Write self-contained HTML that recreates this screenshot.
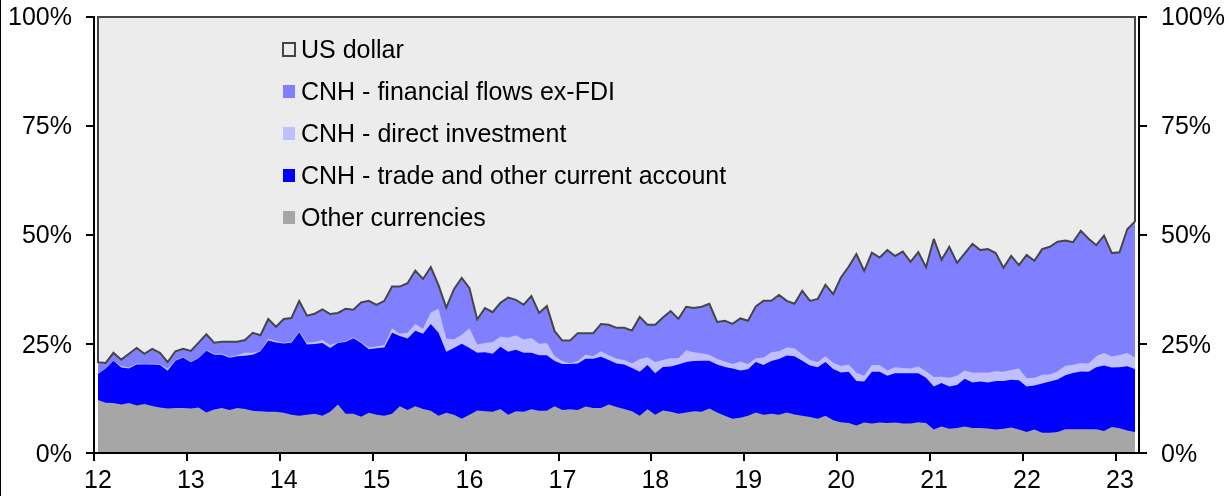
<!DOCTYPE html>
<html><head><meta charset="utf-8"><style>
html,body{margin:0;padding:0;background:#fff;}
body{width:1229px;height:496px;overflow:hidden;}
svg{display:block;will-change:transform;}
.t{font-family:"Liberation Sans",sans-serif;font-size:25px;fill:#000;}
</style></head><body>
<svg width="1229" height="496" viewBox="0 0 1229 496"><rect x="0" y="0" width="1229" height="496" fill="#ffffff"/><rect x="0" y="0" width="1" height="496" fill="#000000"/><rect x="98.0" y="17.0" width="1037.0" height="436.0" fill="#ececec"/><polygon points="98.00,453.0 98.00,362.20 105.74,362.98 113.48,352.81 121.22,359.66 128.96,353.79 136.69,347.92 144.43,353.79 152.17,348.90 159.91,352.81 167.65,362.20 175.39,351.25 183.13,348.90 190.87,350.86 198.60,342.64 206.34,334.23 214.08,342.64 221.82,341.66 229.56,341.66 237.30,341.66 245.04,340.10 252.78,332.86 260.51,335.21 268.25,318.97 275.99,326.80 283.73,318.97 291.47,318.00 299.21,300.98 306.95,315.65 314.69,313.69 322.43,309.39 330.16,314.08 337.90,312.98 345.64,308.68 353.38,309.66 361.12,302.42 368.86,300.86 376.60,304.77 384.34,300.86 392.07,286.58 399.81,286.58 407.55,283.25 415.29,270.54 423.03,278.95 430.77,267.02 438.51,285.21 446.25,307.70 453.99,289.12 461.72,277.97 469.46,288.14 477.20,319.44 484.94,308.09 492.68,312.20 500.42,302.81 508.16,297.53 515.90,299.88 523.63,304.77 531.37,295.97 539.11,312.98 546.85,306.14 554.59,331.17 562.33,340.56 570.07,340.56 577.81,333.13 585.54,333.13 593.28,333.13 601.02,323.94 608.76,324.72 616.50,327.85 624.24,327.85 631.98,330.59 639.72,316.89 647.46,324.72 655.19,324.72 662.93,317.48 670.67,311.03 678.41,318.85 686.15,306.72 693.89,307.90 701.63,306.72 709.37,303.79 717.10,321.98 724.84,320.81 732.58,323.94 740.32,318.46 748.06,320.81 755.80,306.33 763.54,300.86 771.28,300.86 779.01,294.99 786.75,300.86 794.49,303.79 802.23,290.68 809.97,300.86 817.71,299.00 825.45,284.72 833.19,294.11 840.93,277.48 848.66,266.72 856.40,254.01 864.14,271.03 871.88,252.64 879.62,257.53 887.36,250.10 895.10,255.97 902.84,251.66 910.57,261.83 918.31,252.05 926.05,267.31 933.79,238.95 941.53,259.88 949.27,246.77 957.01,262.81 964.75,253.42 972.49,243.84 980.22,250.10 987.96,249.12 995.70,253.03 1003.44,267.70 1011.18,255.97 1018.92,265.16 1026.66,254.99 1034.40,260.86 1042.13,249.12 1049.87,246.77 1057.61,241.74 1065.35,240.52 1073.09,242.11 1080.83,230.76 1088.57,238.81 1096.31,245.16 1104.04,235.64 1111.78,253.09 1119.52,252.24 1127.26,229.29 1135.00,221.36 1135.00,453.0" fill="#8080ff"/><polygon points="98.00,453.0 98.00,373.55 105.74,368.07 113.48,360.24 121.22,366.11 128.96,367.48 136.69,363.57 144.43,363.96 152.17,363.77 159.91,364.16 167.65,368.46 175.39,360.05 183.13,357.31 190.87,361.42 198.60,357.70 206.34,350.27 214.08,353.79 221.82,353.79 229.56,356.72 237.30,355.16 245.04,352.81 252.78,352.81 260.51,350.86 268.25,338.53 275.99,341.08 283.73,342.64 291.47,341.66 299.21,331.30 306.95,342.64 314.69,342.05 322.43,340.10 330.16,344.99 337.90,342.49 345.64,341.12 353.38,337.21 361.12,341.91 368.86,347.38 376.60,346.41 384.34,345.04 392.07,328.22 399.81,333.69 407.55,332.71 415.29,323.91 423.03,328.80 430.77,312.57 438.51,308.66 446.25,338.58 453.99,339.56 461.72,334.67 469.46,328.22 477.20,344.45 484.94,343.08 492.68,341.91 500.42,336.63 508.16,337.60 515.90,335.26 523.63,339.56 531.37,338.00 539.11,343.86 546.85,343.08 554.59,356.19 562.33,361.08 570.07,363.42 577.81,361.08 585.54,354.82 593.28,356.19 601.02,351.30 608.76,355.21 616.50,358.73 624.24,360.10 631.98,363.42 639.72,359.12 647.46,357.16 655.19,362.05 662.93,360.10 670.67,358.14 678.41,358.14 686.15,350.32 693.89,352.27 701.63,353.25 709.37,354.82 717.10,359.12 724.84,361.47 732.58,364.01 740.32,361.47 748.06,364.01 755.80,358.14 763.54,357.56 771.28,352.27 779.01,351.30 786.75,347.38 794.49,348.36 802.23,354.23 809.97,360.10 817.71,362.05 825.45,356.19 833.19,362.64 840.93,365.97 848.66,364.60 856.40,372.81 864.14,375.75 871.88,364.99 879.62,364.99 887.36,370.46 895.10,367.33 902.84,367.92 910.57,368.51 918.31,366.55 926.05,371.25 933.79,377.11 941.53,376.72 949.27,377.70 957.01,375.75 964.75,370.46 972.49,372.81 980.22,372.42 987.96,372.81 995.70,371.25 1003.44,371.83 1011.18,369.88 1018.92,368.51 1026.66,378.29 1034.40,377.70 1042.13,374.77 1049.87,374.38 1057.61,371.25 1065.35,365.64 1073.09,364.79 1080.83,362.95 1088.57,363.57 1096.31,356.24 1104.04,352.95 1111.78,356.61 1119.52,355.02 1127.26,352.95 1135.00,357.46 1135.00,453.0" fill="#c0c0ff"/><polygon points="98.00,453.0 98.00,373.94 105.74,368.46 113.48,360.64 121.22,367.48 128.96,368.46 136.69,364.55 144.43,364.55 152.17,364.55 159.91,364.94 167.65,370.81 175.39,360.64 183.13,357.70 190.87,362.20 198.60,358.29 206.34,350.86 214.08,354.77 221.82,354.77 229.56,357.70 237.30,356.33 245.04,355.75 252.78,354.77 260.51,351.25 268.25,340.49 275.99,342.44 283.73,343.42 291.47,342.64 299.21,332.27 306.95,344.60 314.69,344.01 322.43,343.03 330.16,347.92 337.90,343.08 345.64,342.10 353.38,338.19 361.12,343.08 368.86,349.34 376.60,348.36 384.34,347.38 392.07,332.71 399.81,336.04 407.55,338.58 415.29,330.76 423.03,333.69 430.77,323.91 438.51,332.71 446.25,351.69 453.99,347.97 461.72,343.86 469.46,347.97 477.20,352.67 484.94,352.27 492.68,353.64 500.42,346.80 508.16,351.69 515.90,349.73 523.63,352.86 531.37,352.86 539.11,355.21 546.85,355.21 554.59,361.08 562.33,364.01 570.07,364.01 577.81,363.42 585.54,358.73 593.28,358.73 601.02,356.77 608.76,360.10 616.50,363.42 624.24,364.60 631.98,367.92 639.72,371.83 647.46,364.99 655.19,373.20 662.93,366.94 670.67,366.55 678.41,364.60 686.15,362.05 693.89,361.08 701.63,360.68 709.37,360.68 717.10,364.60 724.84,366.94 732.58,368.51 740.32,370.46 748.06,369.29 755.80,362.05 763.54,364.99 771.28,361.08 779.01,359.12 786.75,355.60 794.49,356.19 802.23,360.68 809.97,365.38 817.71,367.33 825.45,362.05 833.19,368.90 840.93,372.42 848.66,371.83 856.40,381.03 864.14,381.61 871.88,371.83 879.62,371.83 887.36,375.75 895.10,373.20 902.84,373.20 910.57,373.20 918.31,373.20 926.05,377.70 933.79,386.50 941.53,382.98 949.27,386.50 957.01,384.94 964.75,378.68 972.49,382.59 980.22,381.61 987.96,382.59 995.70,381.03 1003.44,381.03 1011.18,379.66 1018.92,380.24 1026.66,386.50 1034.40,385.53 1042.13,383.57 1049.87,381.61 1057.61,379.43 1065.35,375.16 1073.09,372.96 1080.83,371.50 1088.57,371.74 1096.31,367.23 1104.04,365.40 1111.78,367.59 1119.52,367.23 1127.26,366.37 1135.00,369.06 1135.00,453.0" fill="#0000ff"/><polygon points="98.00,453.0 98.00,400.10 105.74,402.64 113.48,403.03 121.22,404.60 128.96,403.03 136.69,405.57 144.43,404.01 152.17,405.97 159.91,407.53 167.65,408.51 175.39,407.92 183.13,407.92 190.87,408.51 198.60,407.53 206.34,412.42 214.08,409.49 221.82,407.92 229.56,409.88 237.30,407.92 245.04,408.90 252.78,410.86 260.51,411.25 268.25,411.83 275.99,411.83 283.73,412.81 291.47,414.77 299.21,415.75 306.95,414.77 314.69,413.79 322.43,415.75 330.16,411.83 337.90,404.60 345.64,413.79 353.38,413.79 361.12,416.72 368.86,412.81 376.60,414.77 384.34,415.75 392.07,413.79 399.81,406.36 407.55,409.88 415.29,406.36 423.03,408.90 430.77,410.86 438.51,415.75 446.25,412.81 453.99,414.77 461.72,418.68 469.46,414.77 477.20,410.46 484.94,411.25 492.68,411.83 500.42,408.90 508.16,414.77 515.90,411.25 523.63,411.83 531.37,409.29 539.11,410.86 546.85,410.86 554.59,406.36 562.33,409.88 570.07,409.29 577.81,409.88 585.54,406.55 593.28,407.92 601.02,407.92 608.76,404.60 616.50,406.94 624.24,408.90 631.98,411.25 639.72,415.75 647.46,409.29 655.19,414.77 662.93,410.46 670.67,411.83 678.41,413.79 686.15,412.42 693.89,411.25 701.63,411.83 709.37,408.51 717.10,412.42 724.84,415.75 732.58,418.68 740.32,417.70 748.06,415.75 755.80,412.42 763.54,414.77 771.28,413.79 779.01,414.77 786.75,412.42 794.49,414.38 802.23,415.75 809.97,417.11 817.71,418.68 825.45,415.75 833.19,420.24 840.93,422.20 848.66,422.98 856.40,425.53 864.14,422.59 871.88,423.57 879.62,422.59 887.36,422.98 895.10,422.59 902.84,423.57 910.57,423.57 918.31,422.20 926.05,422.98 933.79,429.44 941.53,426.50 949.27,428.85 957.01,428.07 964.75,426.50 972.49,428.07 980.22,428.07 987.96,428.46 995.70,429.44 1003.44,428.85 1011.18,427.48 1018.92,429.44 1026.66,431.98 1034.40,429.44 1042.13,432.76 1049.87,432.76 1057.61,431.98 1065.35,429.29 1073.09,429.29 1080.83,429.29 1088.57,429.29 1096.31,429.29 1104.04,431.12 1111.78,427.10 1119.52,428.32 1127.26,430.51 1135.00,431.98 1135.00,453.0" fill="#a6a6a6"/><polygon points="98.0,362.20 98.0,17.0 1135.0,17.0 1135.0,221.36 1135.00,221.36 1127.26,229.29 1119.52,252.24 1111.78,253.09 1104.04,235.64 1096.31,245.16 1088.57,238.81 1080.83,230.76 1073.09,242.11 1065.35,240.52 1057.61,241.74 1049.87,246.77 1042.13,249.12 1034.40,260.86 1026.66,254.99 1018.92,265.16 1011.18,255.97 1003.44,267.70 995.70,253.03 987.96,249.12 980.22,250.10 972.49,243.84 964.75,253.42 957.01,262.81 949.27,246.77 941.53,259.88 933.79,238.95 926.05,267.31 918.31,252.05 910.57,261.83 902.84,251.66 895.10,255.97 887.36,250.10 879.62,257.53 871.88,252.64 864.14,271.03 856.40,254.01 848.66,266.72 840.93,277.48 833.19,294.11 825.45,284.72 817.71,299.00 809.97,300.86 802.23,290.68 794.49,303.79 786.75,300.86 779.01,294.99 771.28,300.86 763.54,300.86 755.80,306.33 748.06,320.81 740.32,318.46 732.58,323.94 724.84,320.81 717.10,321.98 709.37,303.79 701.63,306.72 693.89,307.90 686.15,306.72 678.41,318.85 670.67,311.03 662.93,317.48 655.19,324.72 647.46,324.72 639.72,316.89 631.98,330.59 624.24,327.85 616.50,327.85 608.76,324.72 601.02,323.94 593.28,333.13 585.54,333.13 577.81,333.13 570.07,340.56 562.33,340.56 554.59,331.17 546.85,306.14 539.11,312.98 531.37,295.97 523.63,304.77 515.90,299.88 508.16,297.53 500.42,302.81 492.68,312.20 484.94,308.09 477.20,319.44 469.46,288.14 461.72,277.97 453.99,289.12 446.25,307.70 438.51,285.21 430.77,267.02 423.03,278.95 415.29,270.54 407.55,283.25 399.81,286.58 392.07,286.58 384.34,300.86 376.60,304.77 368.86,300.86 361.12,302.42 353.38,309.66 345.64,308.68 337.90,312.98 330.16,314.08 322.43,309.39 314.69,313.69 306.95,315.65 299.21,300.98 291.47,318.00 283.73,318.97 275.99,326.80 268.25,318.97 260.51,335.21 252.78,332.86 245.04,340.10 237.30,341.66 229.56,341.66 221.82,341.66 214.08,342.64 206.34,334.23 198.60,342.64 190.87,350.86 183.13,348.90 175.39,351.25 167.65,362.20 159.91,352.81 152.17,348.90 144.43,353.79 136.69,347.92 128.96,353.79 121.22,359.66 113.48,352.81 105.74,362.98 98.00,362.20" fill="none" stroke="#464646" stroke-width="2" stroke-linejoin="miter" stroke-miterlimit="3"/><rect x="93" y="16" width="2" height="438" fill="#000"/><rect x="1138" y="16" width="2" height="438" fill="#000"/><rect x="86" y="452" width="1061" height="2" fill="#000"/><rect x="86" y="452" width="8" height="2" fill="#000"/><rect x="1139" y="452" width="8" height="2" fill="#000"/><rect x="86" y="343" width="8" height="2" fill="#000"/><rect x="1139" y="343" width="8" height="2" fill="#000"/><rect x="86" y="234" width="8" height="2" fill="#000"/><rect x="1139" y="234" width="8" height="2" fill="#000"/><rect x="86" y="125" width="8" height="2" fill="#000"/><rect x="1139" y="125" width="8" height="2" fill="#000"/><rect x="86" y="16" width="8" height="2" fill="#000"/><rect x="1139" y="16" width="8" height="2" fill="#000"/><rect x="93" y="453" width="2" height="8" fill="#000"/><rect x="186" y="453" width="2" height="8" fill="#000"/><rect x="279" y="453" width="2" height="8" fill="#000"/><rect x="372" y="453" width="2" height="8" fill="#000"/><rect x="465" y="453" width="2" height="8" fill="#000"/><rect x="558" y="453" width="2" height="8" fill="#000"/><rect x="650" y="453" width="2" height="8" fill="#000"/><rect x="743" y="453" width="2" height="8" fill="#000"/><rect x="836" y="453" width="2" height="8" fill="#000"/><rect x="929" y="453" width="2" height="8" fill="#000"/><rect x="1022" y="453" width="2" height="8" fill="#000"/><rect x="1115" y="453" width="2" height="8" fill="#000"/><text x="72" y="461.5" text-anchor="end" class="t">0%</text><text x="1161" y="461.5" text-anchor="start" class="t">0%</text><text x="72" y="352.5" text-anchor="end" class="t">25%</text><text x="1161" y="352.5" text-anchor="start" class="t">25%</text><text x="72" y="242.5" text-anchor="end" class="t">50%</text><text x="1161" y="242.5" text-anchor="start" class="t">50%</text><text x="72" y="133.5" text-anchor="end" class="t">75%</text><text x="1161" y="133.5" text-anchor="start" class="t">75%</text><text x="72" y="24.5" text-anchor="end" class="t">100%</text><text x="1161" y="24.5" text-anchor="start" class="t">100%</text><text x="97.9" y="488" text-anchor="middle" class="t">12</text><text x="190.8" y="488" text-anchor="middle" class="t">13</text><text x="283.7" y="488" text-anchor="middle" class="t">14</text><text x="376.6" y="488" text-anchor="middle" class="t">15</text><text x="469.5" y="488" text-anchor="middle" class="t">16</text><text x="562.4" y="488" text-anchor="middle" class="t">17</text><text x="655.3" y="488" text-anchor="middle" class="t">18</text><text x="748.2" y="488" text-anchor="middle" class="t">19</text><text x="841.1" y="488" text-anchor="middle" class="t">20</text><text x="934.1" y="488" text-anchor="middle" class="t">21</text><text x="1027.0" y="488" text-anchor="middle" class="t">22</text><text x="1119.9" y="488" text-anchor="middle" class="t">23</text><rect x="283" y="43" width="12" height="13" fill="#ececec" stroke="#464646" stroke-width="2"/><text x="301" y="57.5" class="t">US dollar</text><rect x="283" y="85" width="12" height="13" fill="#8080ff"/><text x="301" y="99.5" class="t">CNH - financial flows ex-FDI</text><rect x="283" y="127" width="12" height="13" fill="#c0c0ff"/><text x="301" y="141.5" class="t">CNH - direct investment</text><rect x="283" y="169" width="12" height="13" fill="#0000ff"/><text x="301" y="183.5" class="t">CNH - trade and other current account</text><rect x="283" y="211" width="12" height="13" fill="#a6a6a6"/><text x="301" y="225.5" class="t">Other currencies</text></svg>
</body></html>
